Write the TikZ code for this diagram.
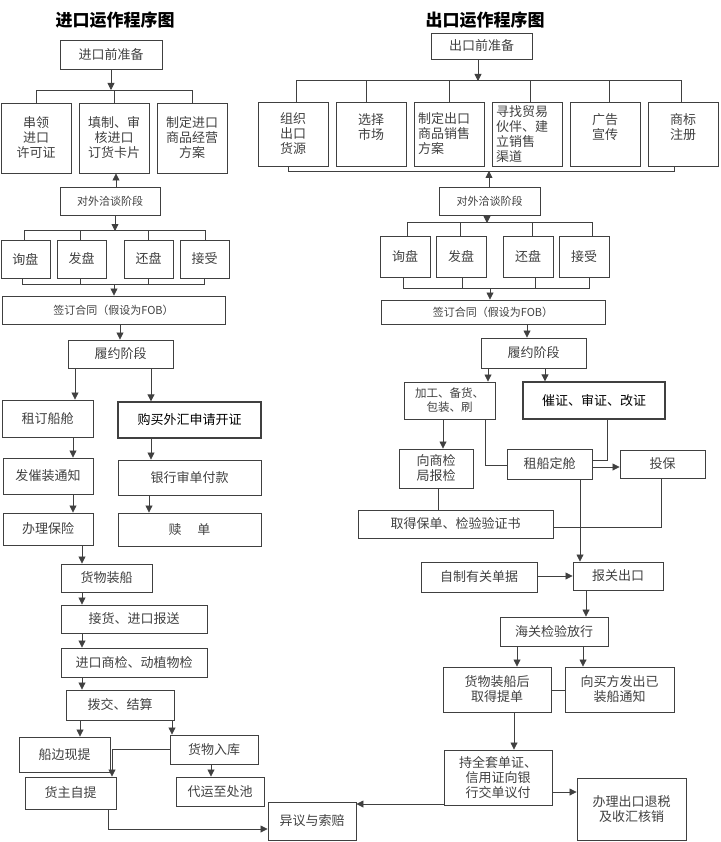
\documentclass[tikz,border=0pt]{standalone}
\usepackage{fontspec}
\setmainfont{Noto Sans CJK SC}
\usetikzlibrary{arrows.meta}
\tikzset{
 box/.style={draw=black!75,line width=0.9pt,inner sep=2pt,text=black!75,font=\fontsize{13}{15}\selectfont,align=center},
 bbox/.style={box,line width=1.3pt,text=black},
 ln/.style={draw=black!75,line width=0.8pt},
 arr/.style={ln,-{Triangle[length=7pt,width=7pt]}},
 ttl/.style={font=\fontsize{17}{19}\selectfont\bfseries}
}
\newcommand\Bx[7][box]{\node[#1,minimum width={(#5-#3)*1pt},minimum height={(#6-#4)*1pt}] (#2) at ({(#3+#5)/2},{(#4+#6)/2}) {#7};}
\begin{document}
\begin{tikzpicture}[x=1pt,y=-1pt]
\useasboundingbox (0,0) rectangle (720,842);
% titles
\node[ttl] (t1) at (115,20) {进口运作程序图};
\node[ttl] (t2) at (485,20) {出口运作程序图};
% ===== LEFT
\Bx{a1}{60}{40}{162}{69}{进口前准备}
\Bx{a2}{1}{103}{71}{173}{串领\\进口\\许可证}
\Bx{a3}{79}{103}{149}{173}{填制、审\\核进口\\订货卡片}
\Bx{a4}{157}{103}{227}{173}{制定进口\\商品经营\\方案}
\Bx{a5}{60}{187}{160}{215}{\fontsize{11}{13}\selectfont 对外洽谈阶段}
\Bx{a6}{1}{240}{50}{278}{询盘}
\Bx{a7}{57}{240}{106}{278}{发盘}
\Bx{a8}{124}{240}{173}{278}{还盘}
\Bx{a9}{180}{240}{229}{278}{接受}
\Bx{a10}{2}{296}{225}{324}{\fontsize{11}{13}\selectfont 签订合同（假设为FOB）}
\Bx{a11}{68}{340}{173}{368}{履约阶段}
\Bx{a12}{2}{400}{93}{437}{租订船舱}
\Bx[bbox]{a13}{118}{402}{261}{438}{购买外汇申请开证}
\Bx{a14}{3}{458}{93}{494}{发催装通知}
\Bx{a15}{118}{460}{261}{495}{银行审单付款}
\Bx{a16}{3}{513}{93}{545}{办理保险}
\Bx{a17}{118}{513}{261}{546}{赎\quad\ 单}
\Bx{a18}{61}{564}{152}{592}{货物装船}
\Bx{a19}{61}{605}{207}{633}{接货、进口报送}
\Bx{a20}{61}{648}{207}{677}{进口商检、动植物检}
\Bx{a21}{66}{690}{174}{720}{拨交、结算}
\Bx{a22}{19}{737}{110}{772}{船边现提}
\Bx{a23}{170}{735}{258}{764}{货物入库}
\Bx{a24}{25}{777}{116}{809}{货主自提}
\Bx{a25}{176}{777}{264}{806}{代运至处池}
\Bx{a26}{268}{802}{356}{840}{异议与索赔}
% left connectors
\draw[arr] (a1.south) -- (110,90 -| a1.south) ;
\draw[ln] (a2.north) -- (36,90 -| a2.north) -- (90,90 -| a4.north) -- (a4.north);
\draw[ln] (a3.north) -- (90,90 -| a3.north);
\draw[arr] (a5.north -| 116,0) -- (a3.south -| 116,0);
\draw[arr] (a5.south -| 115,0) -- (115,231);
\draw[ln] (24,230) -| (a6.north -| 24,0);
\draw[ln] (24,230) -- (205,230) -- (a9.north -| 205,0);
\draw[ln] (80,230) -- (a7.north -| 80,0);
\draw[ln] (148,230) -- (a8.north -| 148,0);
\draw[ln] (a6.south -| 22,0) -- (22,284) -- (204,284) -- (a9.south -| 204,0);
\draw[ln] (a7.south -| 80,0) -- (80,284);
\draw[ln] (a8.south -| 148,0) -- (148,284);
\draw[arr] (114,284) -- (a10.north -| 114,0);
\draw[arr] (a10.south -| 120,0) -- (a11.north -| 120,0);
\draw[arr] (a11.south -| 75,0) -- (a12.north -| 75,0);
\draw[arr] (a11.south -| 151,0) -- (a13.north -| 151,0);
\draw[arr] (a12.south -| 73,0) -- (a14.north -| 73,0);
\draw[arr] (a14.south -| 73,0) -- (a16.north -| 73,0);
\draw[arr] (a13.south -| 151,0) -- (a15.north -| 151,0);
\draw[arr] (a15.south -| 149,0) -- (a17.north -| 149,0);
\draw[arr] (a16.south -| 82,0) -- (a18.north -| 82,0);
\draw[arr] (a18.south -| 82,0) -- (a19.north -| 82,0);
\draw[arr] (a19.south -| 82,0) -- (a20.north -| 82,0);
\draw[arr] (a20.south -| 82,0) -- (a21.north -| 82,0);
\draw[arr] (a21.south -| 80,0) -- (a22.north -| 80,0);
\draw[arr] (a21.south -| 172,0) -- (a23.north -| 172,0);
\draw[arr] (a23.west |- 0,749) -- (112,749) -- (a24.north -| 112,0);
\draw[arr] (a23.south -| 211,0) -- (a25.north -| 211,0);
\draw[arr] (a24.south -| 108,0) -- (108,829) -- (a26.west |- 0,829);
% ===== RIGHT
\Bx{b1}{431}{33}{532}{59}{出口前准备}
\Bx{b2}{258}{102}{328}{166}{组织\\出口\\货源}
\Bx{b3}{336}{102}{406}{166}{选择\\市场\\ }
\Bx{b4}{414}{102}{484}{166}{\makebox[62pt][l]{制定出口}\\\makebox[62pt][l]{商品销售}\\\makebox[62pt][l]{方案}}
\Bx{b5}{492}{102}{562}{166}{\makebox[62pt][l]{寻找贸易}\\\makebox[62pt][l]{伙伴、建}\\\makebox[62pt][l]{立销售}\\\makebox[62pt][l]{渠道}}
\Bx{b6}{570}{102}{640}{166}{广告\\宣传\\ }
\Bx{b7}{648}{102}{718}{166}{商标\\注册\\ }
\Bx{b8}{439}{187}{540}{215}{\fontsize{11}{13}\selectfont 对外洽谈阶段}
\Bx{b9}{380}{236}{430}{277}{询盘}
\Bx{b10}{436}{236}{486}{277}{发盘}
\Bx{b11}{503}{236}{553}{277}{还盘}
\Bx{b12}{559}{236}{609}{277}{接受}
\Bx{b13}{381}{300}{605}{324}{\fontsize{11}{13}\selectfont 签订合同（假设为FOB）}
\Bx{b14}{481}{338}{586}{368}{履约阶段}
\Bx{b15}{404}{382}{495}{419}{\fontsize{11.5}{13}\selectfont 加工、备货、\\[-1pt]\fontsize{11.5}{13}\selectfont 包装、刷\hspace{2.5em}}
\Bx[bbox]{b16}{523}{382}{665}{419}{催证、审证、改证}
\Bx{b17}{399}{449}{473}{488}{向商检\\局报检}
\Bx{b18}{507}{449}{592}{479}{租船定舱}
\Bx{b19}{620}{450}{705}{478}{投保}
\Bx{b20}{358}{510}{553}{538}{取得保单、检验验证书}
\Bx{b21}{421}{562}{537}{592}{自制有关单据}
\Bx{b22}{573}{562}{663}{590}{报关出口}
\Bx{b23}{500}{617}{608}{646}{海关检验放行}
\Bx{b24}{443}{667}{551}{712}{货物装船后\\取得提单\hspace{2em}}
\Bx{b25}{565}{667}{674}{712}{向买方发出已\\装船通知\hspace{2em}}
\Bx{b26}{444}{750}{552}{805}{持全套单证、\\信用证向银\\行交单议付}
\Bx{b27}{577}{778}{686}{840}{办理出口退税\\及收汇核销\hspace{1em}}
% right connectors
\draw[arr] (b1.south -| 478,0) -- (478,81);
\draw[ln] (b2.north -| 296,0) -- (296,80) -- (681,80) -- (b7.north -| 681,0);
\foreach \n/\xx in {b3/366,b4/449,b5/530,b6/609} \draw[ln] (\n.north -| \xx,0) -- (\xx,80);
\draw[ln] (b2.south -| 288,0) -- (288,171) -- (674,171) -- (b7.south -| 674,0);
\draw[arr] (b8.north -| 489,0) -- (489,171);
\draw[arr] (b8.south -| 487,0) -- (487,223);
\draw[ln] (b9.north -| 407,0) -- (407,222) -- (592,222) -- (b12.north -| 592,0);
\draw[ln] (b10.north -| 460,0) -- (460,222);
\draw[ln] (b11.north -| 532,0) -- (532,222);
\draw[ln] (b9.south -| 403,0) -- (403,288) -- (589,288) -- (b12.south -| 589,0);
\draw[ln] (b10.south -| 462,0) -- (462,288);
\draw[ln] (b11.south -| 535,0) -- (535,288);
\draw[arr] (490,288) -- (b13.north -| 490,0);
\draw[arr] (b13.south -| 527,0) -- (b14.north -| 527,0);
\draw[arr] (b14.south -| 488,0) -- (b15.north -| 488,0);
\draw[arr] (b14.south -| 545,0) -- (b16.north -| 545,0);
\draw[arr] (b15.south -| 443,0) -- (b17.north -| 443,0);
\draw[ln] (b15.south -| 485,0) -- (485,465) -- (b18.west |- 0,465);
\draw[ln] (b16.south -| 607,0) -- (607,460) -- (b18.east |- 0,460);
\draw[arr] (b18.east |- 0,467) -- (b19.west |- 0,467);
\draw[ln] (b17.south -| 438,0) -- (b20.north -| 438,0);
\draw[ln] (b19.south -| 661,0) -- (661,527) -- (b20.east |- 0,527);
\draw[arr] (b18.south -| 580,0) -- (b22.north -| 580,0);
\draw[arr] (b21.east |- 0,576) -- (b22.west |- 0,576);
\draw[arr] (b22.south -| 586,0) -- (b23.north -| 586,0);
\draw[arr] (b23.south -| 517,0) -- (b24.north -| 517,0);
\draw[arr] (b23.south -| 583,0) -- (b25.north -| 583,0);
\draw[ln] (b24.east |- 0,690) -- (b25.west |- 0,690);
\draw[arr] (b24.south -| 514,0) -- (b26.north -| 514,0);
\draw[arr] (b26.east |- 0,792) -- (b27.west |- 0,792);
\draw[arr] (b26.west |- 0,804) -- (a26.east |- 0,804);
\end{tikzpicture}
\end{document}
